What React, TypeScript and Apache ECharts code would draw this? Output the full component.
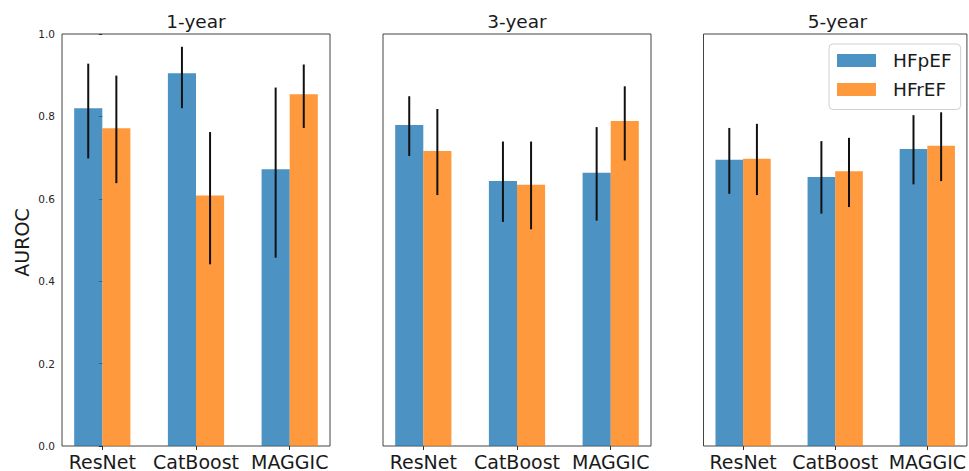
import React, { useEffect, useRef } from "react";
import * as echarts from "echarts";

const categories = ["ResNet", "CatBoost", "MAGGIC"];
const horizons = ["1-year", "3-year", "5-year"];
const seriesNames = ["HFpEF", "HFrEF"];
const yTicks = [0, 0.2, 0.4, 0.6, 0.8, 1.0];

// rows: 1-year, 3-year, 5-year ; columns: ResNet, CatBoost, MAGGIC
const hfpefAuroc = [
  [0.82, 0.905, 0.672],
  [0.779, 0.643, 0.663],
  [0.695, 0.653, 0.721],
];
const hfpefLow = [
  [0.698, 0.82, 0.457],
  [0.704, 0.544, 0.547],
  [0.612, 0.564, 0.635],
];
const hfpefHigh = [
  [0.928, 0.969, 0.87],
  [0.849, 0.739, 0.774],
  [0.772, 0.74, 0.803],
];
const hfrefAuroc = [
  [0.771, 0.608, 0.854],
  [0.716, 0.634, 0.789],
  [0.697, 0.667, 0.729],
];
const hfrefLow = [
  [0.638, 0.441, 0.772],
  [0.609, 0.526, 0.693],
  [0.609, 0.58, 0.643],
];
const hfrefHigh = [
  [0.899, 0.762, 0.926],
  [0.818, 0.739, 0.873],
  [0.782, 0.748, 0.81],
];

const FONT = "DejaVu Sans";
const BLUE = "rgba(31,119,180,0.8)";
const ORANGE = "rgba(255,127,14,0.8)";
const gridLefts = [62, 383, 703.5];
const GRID_W = 268;
const GRID_TOP = 34;
const GRID_H = 414;
const BAR_W = 0.3;

export default function App() {
  const ref = useRef<HTMLDivElement>(null);
  useEffect(() => {
    if (!ref.current) return;
    const chart = echarts.init(ref.current, undefined, { renderer: "svg" });

    const makeRender = (offset: number, color: string) => (params: any, api: any) => {
      const x = api.value(0) + offset;
      const y = api.value(1);
      const lo = api.value(2);
      const hi = api.value(3);
      const p0 = api.coord([x - BAR_W / 2, y]);
      const p1 = api.coord([x + BAR_W / 2, 0]);
      const e0 = api.coord([x, lo]);
      const e1 = api.coord([x, hi]);
      return {
        type: "group",
        children: [
          {
            type: "rect",
            shape: { x: p0[0], y: p0[1], width: p1[0] - p0[0], height: p1[1] - p0[1] },
            style: { fill: color },
          },
          {
            type: "line",
            z2: 10,
            shape: { x1: e0[0], y1: e0[1], x2: e1[0], y2: e1[1] },
            style: { stroke: "#111", lineWidth: 2 },
          },
        ],
      };
    };

    const grids = gridLefts.map((l) => ({
      left: l,
      top: GRID_TOP,
      width: GRID_W,
      height: GRID_H,
      show: true,
      borderColor: "#444",
      borderWidth: 1,
      backgroundColor: "transparent",
    }));

    const xAxes = gridLefts.map((_, i) => ({
      type: "value",
      gridIndex: i,
      min: -0.43,
      max: 2.43,
      splitLine: { show: false },
      axisLine: { show: false },
      axisTick: {
        show: true,
        customValues: [0, 1, 2],
        length: 4,
        lineStyle: { color: "#333" },
      },
      axisLabel: {
        customValues: [0, 1, 2],
        formatter: (v: number) => categories[Math.round(v)],
        fontSize: 19,
        fontFamily: FONT,
        color: "#1a1a1a",
        margin: 6,
      },
    }));

    const yAxes = gridLefts.map((_, i) => ({
      type: "value",
      gridIndex: i,
      min: yTicks[0],
      max: yTicks[yTicks.length - 1],
      interval: 0.2,
      splitLine: { show: false },
      axisLine: { show: false },
      axisTick: { show: i === 0, length: 3.5, lineStyle: { color: "#333" } },
      axisLabel: {
        show: i === 0,
        formatter: (v: number) => v.toFixed(1),
        fontSize: 10.5,
        fontFamily: FONT,
        color: "#262626",
        margin: 7,
      },
    }));

    const series: any[] = [];
    horizons.forEach((_, i) => {
      series.push({
        type: "custom",
        name: seriesNames[0],
        xAxisIndex: i,
        yAxisIndex: i,
        itemStyle: { color: BLUE },
        renderItem: makeRender(-0.15, BLUE),
        data: categories.map((_, c) => [c, hfpefAuroc[i][c], hfpefLow[i][c], hfpefHigh[i][c]]),
      });
      series.push({
        type: "custom",
        name: seriesNames[1],
        xAxisIndex: i,
        yAxisIndex: i,
        itemStyle: { color: ORANGE },
        renderItem: makeRender(0.15, ORANGE),
        data: categories.map((_, c) => [c, hfrefAuroc[i][c], hfrefLow[i][c], hfrefHigh[i][c]]),
      });
    });

    const graphic: any[] = horizons.map((h, i) => ({
      type: "text",
      x: gridLefts[i] + GRID_W / 2,
      y: 21,
      style: {
        text: h,
        fontSize: 18.5,
        fontFamily: FONT,
        fill: "#1a1a1a",
        textAlign: "center",
        textVerticalAlign: "middle",
      },
    }));
    graphic.push({
      type: "text",
      x: 22,
      y: 242.5,
      rotation: Math.PI / 2,
      style: {
        text: "AUROC",
        fontSize: 19,
        fontFamily: FONT,
        fill: "#1a1a1a",
        textAlign: "center",
        textVerticalAlign: "middle",
      },
    });

    chart.setOption({
      animation: false,
      backgroundColor: "#fff",
      grid: grids,
      xAxis: xAxes,
      yAxis: yAxes,
      series,
      graphic,
      legend: {
        orient: "vertical",
        left: 829,
        top: 44,
        padding: [6.5, 9, 10, 8],
        itemWidth: 39,
        itemHeight: 13,
        itemGap: 9,
        borderColor: "#d0d0d0",
        borderWidth: 1,
        borderRadius: 4,
        backgroundColor: "rgba(255,255,255,0.8)",
        selectedMode: false,
        data: [
          { name: seriesNames[0], icon: "rect", itemStyle: { color: BLUE } },
          { name: seriesNames[1], icon: "rect", itemStyle: { color: ORANGE } },
        ],
        textStyle: {
          fontSize: 18.5,
          fontFamily: FONT,
          color: "#1a1a1a",
          lineHeight: 20,
          padding: [0, 0, 0, 12],
        },
      },
    });
    return () => chart.dispose();
  }, []);

  return (
    <div
      ref={ref}
      style={{ position: "fixed", left: 0, top: 0, width: 969, height: 471 }}
    />
  );
}
